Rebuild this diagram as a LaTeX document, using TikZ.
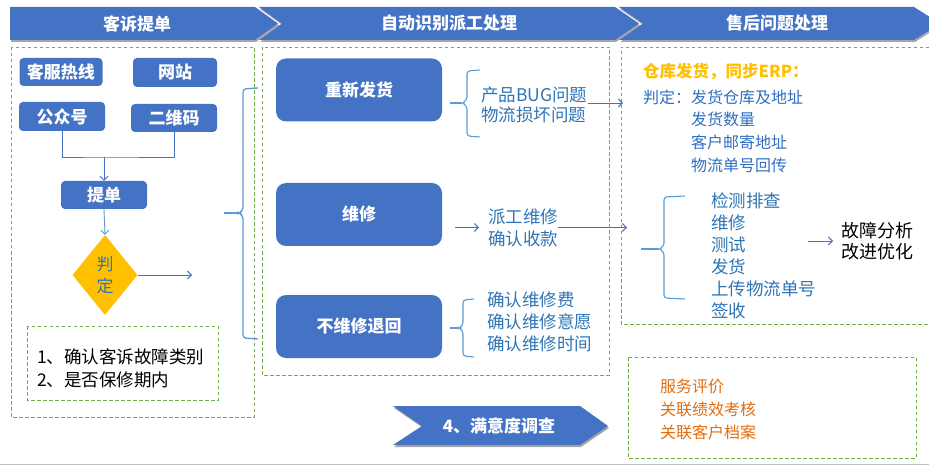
\documentclass[tikz,border=0pt]{standalone}
\usepackage{fontspec}
\setmainfont{Noto Sans CJK SC}
\usetikzlibrary{arrows.meta,shapes.geometric,positioning}
\definecolor{boxblue}{HTML}{4472C4}
\definecolor{lineblue}{HTML}{5B9BD5}
\definecolor{txtblue}{HTML}{2E75B6}
\definecolor{rblue}{HTML}{2F6EC0}
\definecolor{grnline}{HTML}{70AD47}
\definecolor{gold}{HTML}{FFC000}
\definecolor{orng}{HTML}{E46C0A}

\begin{document}
\begin{tikzpicture}[x=1pt, y=-1pt,
    blk/.style={fill=boxblue, text=white, rounded corners=4pt, inner sep=0pt, font=\fontsize{17}{20}\selectfont\bfseries},
    bigblk/.style={blk, rounded corners=10pt, minimum width=166pt, minimum height=63pt},
    band/.style={fill=boxblue},
    bandshade/.style={fill=black!35},
    hdr/.style={text=white, inner sep=0pt, font=\fontsize{17}{20}\selectfont\bfseries},
    dsh/.style={draw=grnline, dash pattern=on 3.5pt off 2.5pt, line width=0.8pt},
    brk/.style={draw=lineblue, line width=1.1pt, rounded corners=3pt},
    arr/.style={draw=boxblue, line width=0.9pt, -{Straight Barb[length=4pt,width=8pt]}},
    bluetxt/.style={text=txtblue, align=left, inner sep=0pt, anchor=west},
  ]
    \useasboundingbox (0,0) rectangle (929,465);
    \draw[black!25, line width=1pt] (0,464) -- (929,464);

    % header bands
    \fill[bandshade, shift={(1,2)}] (10,7) -- (255,7) -- (278,23.5) -- (255,40) -- (10,40) -- cycle;
    \fill[bandshade, shift={(1,2)}] (259,7) -- (615,7) -- (639,23.5) -- (615,40) -- (259,40) -- (282,23.5) -- cycle;
    \fill[bandshade, shift={(1,2)}] (619,7) -- (914,7) -- (940,23.5) -- (914,40) -- (619,40) -- (643,23.5) -- cycle;
    \fill[band] (10,7) -- (255,7) -- (278,23.5) -- (255,40) -- (10,40) -- cycle;
    \fill[band] (259,7) -- (615,7) -- (639,23.5) -- (615,40) -- (259,40) -- (282,23.5) -- cycle;
    \fill[band] (619,7) -- (914,7) -- (940,23.5) -- (914,40) -- (619,40) -- (643,23.5) -- cycle;
    \node[hdr] (h1) at (137,23.5) {客诉提单};
    \node[hdr] (h2) at (449,23.5) {自动识别派工处理};
    \node[hdr] (h3) at (777,23.5) {售后问题处理};

    % dashed frames
    \draw[dsh] (11,47) rectangle (254,417);
    \draw[dsh] (27,326) rectangle (218,400);
    \draw[dsh] (262,47) rectangle (609,375);
    \draw[dsh] (929,47) -- (621,47) -- (621,324) -- (929,324);
    \draw[dsh] (628,357) rectangle (916,458);

    % complaint channels
    \node[blk, minimum width=83pt, minimum height=28pt] (rx) at (61,72) {客服热线};
    \node[blk, minimum width=84pt, minimum height=29pt] (wz) at (175,72.5) {网站};
    \node[blk, minimum width=86pt, minimum height=29pt] (gzh) at (62,116.5) {公众号};
    \node[blk, minimum width=86pt, minimum height=28pt] (ewm) at (174,118) {二维码};
    \node[blk, minimum width=86pt, minimum height=28pt] (td) at (104,195) {提单};
    \node[diamond, fill=gold, minimum width=65pt, minimum height=80pt, inner sep=0pt,
          text=txtblue, align=center, font=\fontsize{17}{22}\selectfont] (pd) at (105,275) {判\\定};
    \coordinate (jn) at (104,157);
    \coordinate (pdout) at (192,275);
    \draw[boxblue, line width=0.9pt] (gzh.south) |- (jn) -| (ewm.south);
    \draw[arr] (jn) -- (td.north);
    \draw[arr, draw=lineblue] (td.south) -- (pd.north);
    \draw[arr] (pd.east) -- (pdout);
    \node[anchor=west, align=left, inner sep=0pt, font=\fontsize{17.5}{23}\selectfont] (nt) at (37,368)
        {1、确认客诉故障类别\\2、是否保修期内};

    % big brace
    \draw[brk, line width=1.3pt] (258,88) -- (243,89) -- (243,210) -- (239,213) -- (243,216) -- (243,338) -- (258,339);
    \draw[brk, line width=1.3pt] (224,213) -- (239,213);

    % dispatch types
    \node[bigblk] (cf) at (359,90) {重新发货};
    \node[bigblk] (wx) at (359,214.5) {维修};
    \node[bigblk] (bwx) at (359,326.5) {不维修退回};

    \node[bluetxt, font=\fontsize{17.5}{20}\selectfont] (q1) at (481,104.5) {产品BUG问题\\物流损坏问题};
    \node[bluetxt, font=\fontsize{17.5}{22}\selectfont] (pg) at (488,227.5) {派工维修\\确认收款};
    \node[bluetxt, font=\fontsize{17.5}{22}\selectfont] (q3) at (487,322) {确认维修费\\确认维修意愿\\确认维修时间};

    \draw[brk] (480,70) -- (467,71) -- (467,100) -- (462,103) -- (467,106) -- (467,136) -- (480,137);
    \draw[brk] ([xshift=8pt]cf.east |- 0,103) -- (462,103);
    \draw[brk] (474,299) -- (463,300) -- (463,325) -- (459,328) -- (463,331) -- (463,356) -- (474,357);
    \draw[brk] ([xshift=8pt]bwx.east |- 0,328) -- (459,328);

    \coordinate (r1) at (623,103);
    \coordinate (r2) at (627,226.5);
    \draw[arr] (q1.east |- r1) -- (r1);
    \draw[arr] ([xshift=13pt]wx.east |- pg.west) -- ([xshift=-9pt]pg.west);
    \draw[arr] (pg.east) -- (pg.east -| r2);

    % after-sales handling
    \node[anchor=west, inner sep=0pt, text=gold, font=\fontsize{16.5}{20}\selectfont\bfseries] (ck) at (643,72) {仓库发货，同步ERP：};
    \node[bluetxt, text=rblue, font=\fontsize{16}{22.7}\selectfont] (pdl) at (643,131)
        {判定：发货仓库及地址\\\phantom{判定：}发货数量\\\phantom{判定：}客户邮寄地址\\\phantom{判定：}物流单号回传};

    \node[bluetxt, font=\fontsize{17.5}{22}\selectfont] (jc) at (711,256) {检测排查\\维修\\测试\\发货\\上传物流单号\\签收};
    \draw[brk] (685,196) -- (664,197) -- (664,246) -- (659,249) -- (664,252) -- (664,298) -- (685,299);
    \draw[brk] (641,249) -- (659,249);
    \node[anchor=west, align=left, inner sep=0pt, font=\fontsize{18}{21}\selectfont] (gz) at (841,241.5) {故障分析\\改进优化};
    \coordinate (gzin) at (808,241);
    \draw[arr] (gzin) -- ([xshift=-8pt]gz.west |- gzin);

    % satisfaction survey
    \fill[bandshade, shift={(1,2)}] (393,406) -- (580,406) -- (608,426) -- (580,445) -- (393,445) -- (422,426) -- cycle;
    \fill[band] (393,406) -- (580,406) -- (608,426) -- (580,445) -- (393,445) -- (422,426) -- cycle;
    \node[hdr] (myd) at (499,426) {4、满意度调查};
    \node[anchor=west, align=left, inner sep=0pt, text=orng, font=\fontsize{16}{23}\selectfont] (fw) at (660,409)
        {服务评价\\关联绩效考核\\关联客户档案};
\end{tikzpicture}
\end{document}
